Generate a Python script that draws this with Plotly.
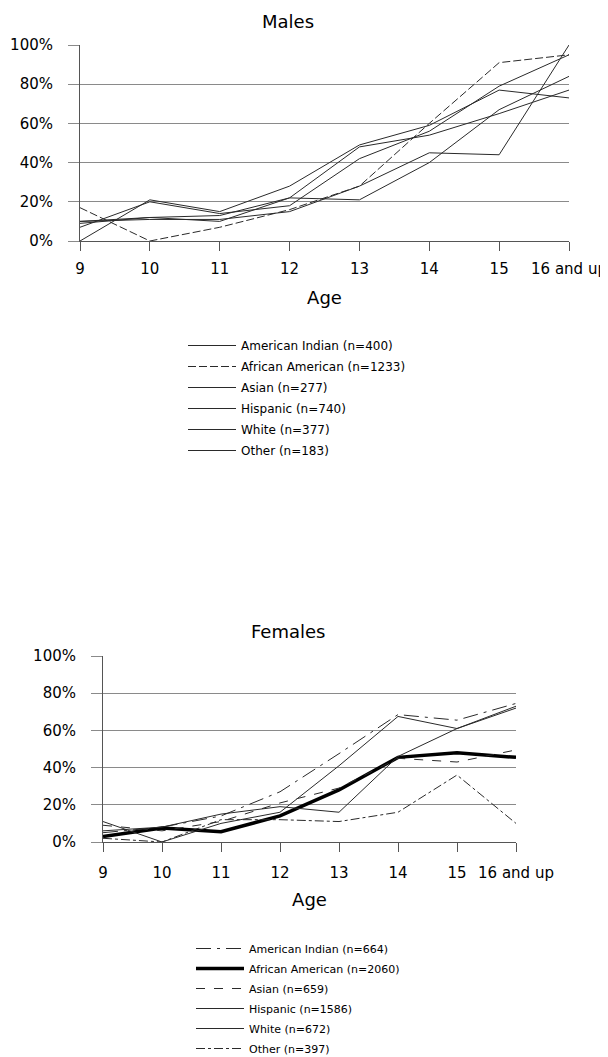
import plotly.graph_objects as go

# Page geometry: the browser adds an 8px body margin around the figure.
PAGE_OFF = 8
W, H = 600, 1065

ages = ["9", "10", "11", "12", "13", "14", "15", "16 and up"]
pct_ticks = [0, 20, 40, 60, 80, 100]
pct_labels = ["0%", "20%", "40%", "60%", "80%", "100%"]

# ---- Males (percent) ----
male_names = ["American Indian (n=400)", "African American (n=1233)", "Asian (n=277)",
              "Hispanic (n=740)", "White (n=377)", "Other (n=183)"]
male_american_indian = [0, 21, 15, 28, 49, 59, 77, 73]
male_african_american = [17, 0, 7, 16, 28, 60, 91, 95]
male_asian = [7, 20, 14, 18, 42, 56, 79, 95]
male_hispanic = [10, 12, 13, 22, 48, 54, 65, 77]
male_white = [10, 11, 11, 15, 28, 45, 44, 100]
male_other = [9, 12, 10, 22, 21, 40, 67, 84]

# ---- Females (percent) ----
female_names = ["American Indian (n=664)", "African American (n=2060)", "Asian (n=659)",
                "Hispanic (n=1586)", "White (n=672)", "Other (n=397)"]
female_american_indian = [5, 8, 14, 27, 47.5, 68.5, 65.5, 74.5]
female_african_american = [3, 7.5, 5.5, 14, 28, 45.5, 48, 45.5]
female_asian = [9, 6, 11, 21, 29, 45, 43, 49.5]
female_hispanic = [6, 8, 15, 19, 16, 46, 61, 73]
female_white = [11, 0, 10, 16, 41, 67.5, 61, 72]
female_other = [2, 0, 12, 12, 11, 16, 36, 10]

male_series = [male_american_indian, male_african_american, male_asian,
               male_hispanic, male_white, male_other]
female_series = [female_american_indian, female_african_american, female_asian,
                 female_hispanic, female_white, female_other]

male_dash = ["solid", "8px,3px", "solid", "solid", "solid", "solid"]
female_dash = ["longdashdot", "solid", "dash", "solid", "solid", "dashdot"]
female_width = [1, 3.5, 1, 1, 1, 1]

FONT = "DejaVu Sans"
LINE_COL = "#2a2a2a"
TXT = "#000000"

fig = go.Figure()

for i, (name, vals) in enumerate(zip(male_names, male_series)):
    fig.add_trace(go.Scatter(
        x=ages, y=vals, mode="lines", name=name,
        line=dict(color=LINE_COL, width=1, dash=male_dash[i]),
        xaxis="x", yaxis="y", legend="legend", legendgroup="m%d" % i,
        hoverinfo="skip"))

for i, (name, vals) in enumerate(zip(female_names, female_series)):
    fig.add_trace(go.Scatter(
        x=ages, y=vals, mode="lines", name=name,
        line=dict(color="#000000" if i == 1 else LINE_COL, width=female_width[i],
                  dash=female_dash[i]),
        xaxis="x2", yaxis="y2", legend="legend2", legendgroup="f%d" % i,
        hoverinfo="skip"))


def px_x(p):
    return (p - PAGE_OFF) / W


def px_y(p):
    return 1 - (p - PAGE_OFF) / H


tick_font = dict(family=FONT, size=15, color=TXT)
title_font = dict(family=FONT, size=18, color=TXT)


def x_axis(domain, anchor, label_standoff, title_standoff):
    return dict(
        type="category", range=[0, 7], domain=domain, anchor=anchor,
        showgrid=False, showline=True, linecolor="#555", linewidth=1,
        ticks="outside", ticklen=9, tickcolor="#555", tickfont=tick_font,
        zeroline=False, automargin=False, ticklabelstandoff=label_standoff,
        title=dict(text="Age", font=title_font, standoff=title_standoff))


def y_axis(domain, anchor):
    return dict(
        range=[0, 100], tickvals=pct_ticks, ticktext=pct_labels, domain=domain,
        anchor=anchor, showgrid=True, gridcolor="#8a8a8a", gridwidth=1,
        showline=True, linecolor="#555", linewidth=1, ticks="outside", ticklen=11,
        tickcolor="#8a8a8a", tickfont=tick_font, zeroline=False, automargin=False,
        ticklabelstandoff=12)


fig.update_layout(
    width=W, height=H,
    margin=dict(l=0, r=0, t=0, b=0),
    paper_bgcolor="white", plot_bgcolor="white",
    showlegend=True,
    xaxis=x_axis([px_x(80), px_x(569)], "y", 5, 14),
    yaxis=y_axis([px_y(241), px_y(45)], "x"),
    xaxis2=x_axis([px_x(103), px_x(516)], "y2", 8, 12),
    yaxis2=y_axis([px_y(842), px_y(656)], "x2"),
    legend=dict(x=px_x(183), y=px_y(331), xanchor="left", yanchor="top",
                font=dict(family=FONT, size=12, color=TXT),
                tracegroupgap=2, itemwidth=48, bgcolor="rgba(0,0,0,0)",
                itemclick=False, itemdoubleclick=False),
    legend2=dict(x=px_x(191), y=px_y(934), xanchor="left", yanchor="top",
                 font=dict(family=FONT, size=11, color=TXT),
                 tracegroupgap=1, itemwidth=48, bgcolor="rgba(0,0,0,0)",
                 itemclick=False, itemdoubleclick=False),
    annotations=[
        dict(text="Males", x=px_x(288), y=px_y(21), xref="paper", yref="paper",
             showarrow=False, xanchor="center", yanchor="middle", font=title_font),
        dict(text="Females", x=px_x(288), y=px_y(631), xref="paper", yref="paper",
             showarrow=False, xanchor="center", yanchor="middle", font=title_font),
    ],
)

fig.write_html("out.html")
